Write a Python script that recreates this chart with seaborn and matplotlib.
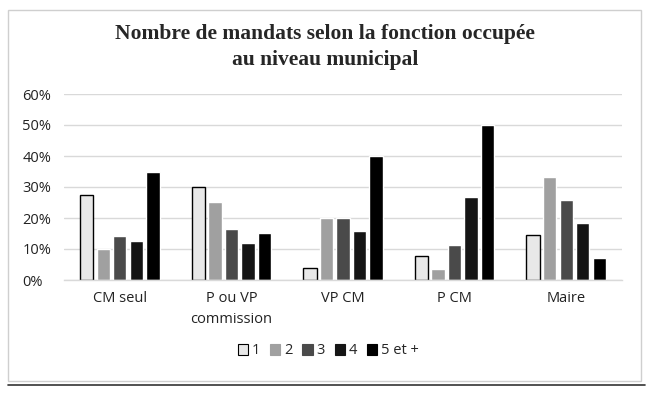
import pandas as pd
import matplotlib.pyplot as plt
import seaborn as sns
from matplotlib.patches import Rectangle
from matplotlib.lines import Line2D

# Data (share of elected officials, %)
fonctions = ["CM seul", "P ou VP\ncommission", "VP CM", "P CM", "Maire"]
mandats = ["1", "2", "3", "4", "5 et +"]
mandat_1 = [27.4, 30.1, 3.9, 7.6, 14.5]
mandat_2 = [10.0, 25.3, 20.0, 3.5, 33.1]
mandat_3 = [14.3, 16.3, 20.0, 11.4, 25.9]
mandat_4 = [12.6, 12.0, 15.7, 26.7, 18.3]
mandat_5 = [34.8, 15.3, 40.0, 50.0, 7.1]
colors = ["#e8e8e8", "#a0a0a0", "#4a4a4a", "#151515", "#000000"]

series = [mandat_1, mandat_2, mandat_3, mandat_4, mandat_5]
df = pd.DataFrame({
    "fonction": [f for _ in mandats for f in fonctions],
    "mandats": [m for m in mandats for _ in fonctions],
    "pct": [v for s in series for v in s],
})

sns.set_theme(style="white")
plt.rcParams["font.family"] = ["Open Sans", "DejaVu Sans"]

fig = plt.figure(figsize=(6.5, 3.96), dpi=100)
ax = fig.add_axes([64 / 650, 116 / 396, 558 / 650, 186 / 396])

sns.barplot(data=df, x="fonction", y="pct", hue="mandats", order=fonctions,
            hue_order=mandats, palette=colors, width=0.74, gap=0.19,
            saturation=1, ax=ax, legend=False)

# outline on the lightest series only
for bar in ax.containers[0]:
    bar.set_edgecolor("black")
    bar.set_linewidth(1.0)

ax.set_ylim(0, 60)
ax.set_yticks(range(0, 61, 10))
ax.set_yticklabels([f"{v}%" for v in range(0, 61, 10)], fontsize=10.5, color="#222222")
ax.tick_params(axis="x", labelsize=10.5, colors="#222222", pad=8, length=0)
ax.tick_params(axis="y", length=0, pad=30)
for lbl in ax.get_yticklabels():
    lbl.set_horizontalalignment("left")
for lbl in ax.get_xticklabels():
    lbl.set_linespacing(1.55)
ax.set_xlabel("")
ax.set_ylabel("")
ax.grid(axis="y", color="#d9d9d9", linewidth=1)
ax.set_axisbelow(True)
for side in ["top", "right", "left"]:
    ax.spines[side].set_visible(False)
ax.spines["bottom"].set_color("#d9d9d9")
ax.spines["bottom"].set_linewidth(1)

fig.text(0.5, 1 - 47 / 396, "Nombre de mandats selon la fonction occupée\nau niveau municipal",
         ha="center", va="center", fontsize=15.5, fontweight="bold",
         family="Liberation Serif", linespacing=1.4)

handles = [Rectangle((0, 0), 1, 1, facecolor=c, edgecolor="black" if i == 0 else c,
                     linewidth=0.8) for i, c in enumerate(colors)]
fig.legend(handles, mandats, loc="center", bbox_to_anchor=(0.505, 1 - 351 / 396), ncol=5,
           frameon=False, fontsize=10.5, handlelength=0.7, handleheight=0.7,
           handletextpad=0.25, columnspacing=0.7)

# outer frame of the original figure
fig.patches.append(Rectangle((8 / 650, 1 - 381 / 396), 633 / 650, 371 / 396,
                             transform=fig.transFigure, fill=False,
                             edgecolor="#cfcfcf", linewidth=1))
fig.lines.append(Line2D([8 / 650, 645 / 650], [1 - 385 / 396, 1 - 385 / 396],
                        transform=fig.transFigure, color="#333333", linewidth=1.2))

fig.savefig("out.png", dpi=100)
